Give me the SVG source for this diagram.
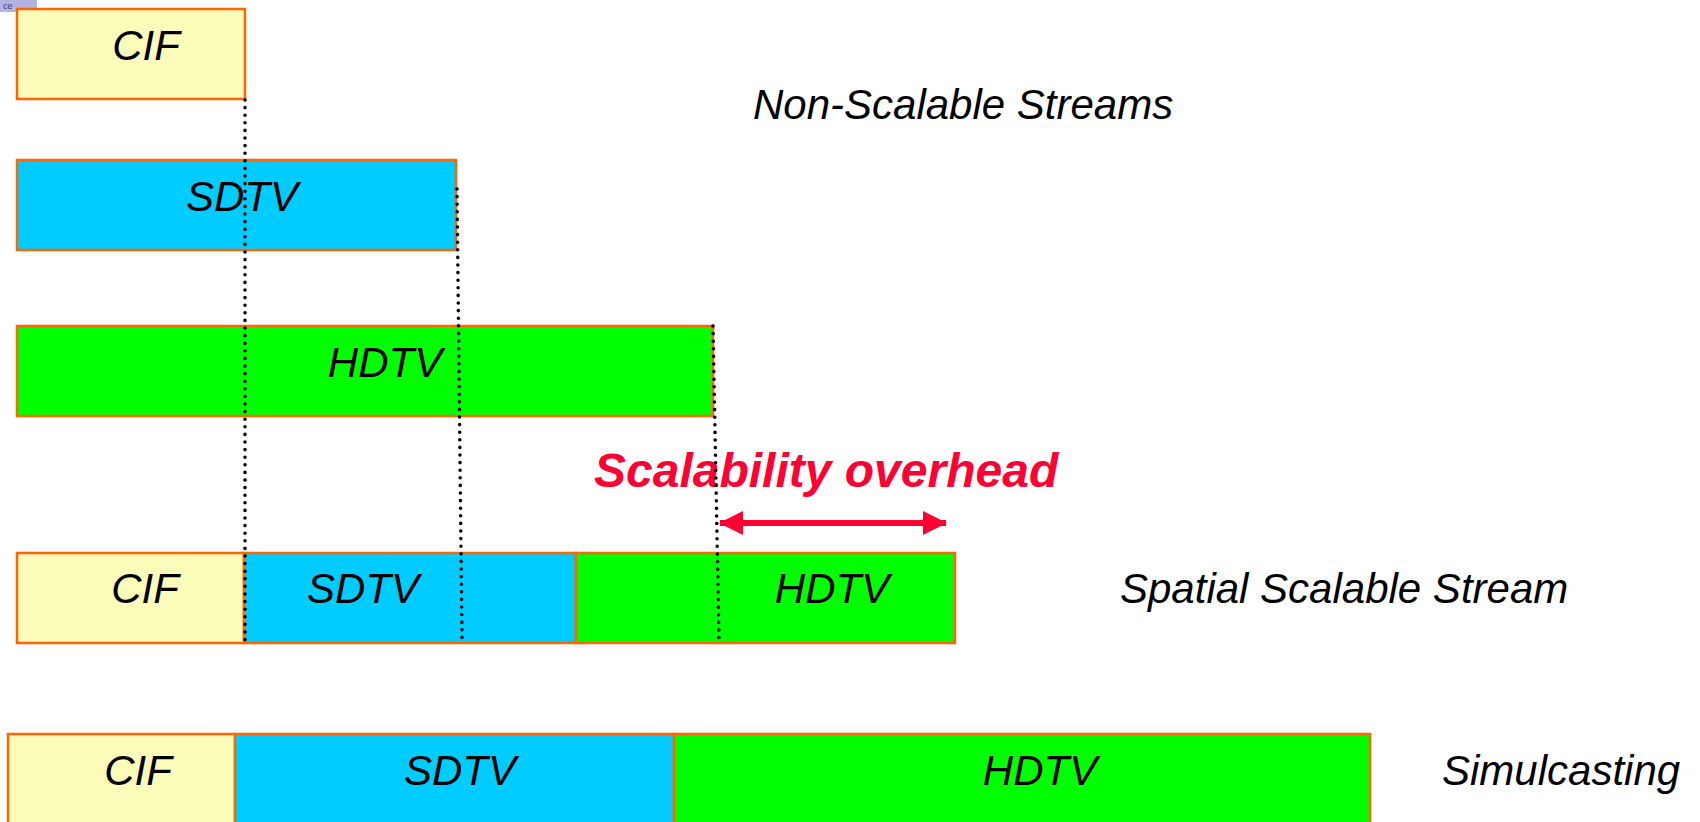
<svg xmlns="http://www.w3.org/2000/svg" width="1700" height="822" viewBox="0 0 1700 822">
<style>
.box{stroke:#FF6600;stroke-width:2.5}
.cif{fill:#FCFCBA}
.sd{fill:#00CCFF}
.hd{fill:#00FF00}
.lbl{font-family:"Liberation Sans",Arial,sans-serif;font-style:italic;font-size:42px;fill:#000;text-anchor:middle}
.cap{font-family:"Liberation Sans",Arial,sans-serif;font-style:italic;font-size:42px;fill:#000}
.dot{stroke:#000;stroke-width:3.6;stroke-linecap:round;stroke-dasharray:0 7.6;fill:none}
</style>
<defs>
<marker id="ah" viewBox="0 0 24 24" refX="23" refY="12" markerWidth="24" markerHeight="24" markerUnits="userSpaceOnUse" orient="auto-start-reverse">
<path d="M0,0 L24,12 L0,24 Z" fill="#FF0033"/>
</marker>
</defs>
<rect width="1700" height="822" fill="#fff"/>
<g id="corner">
<rect x="0" y="0" width="37" height="12" fill="#B3B3E3"/>
<text x="3" y="9" font-family="Liberation Sans,sans-serif" font-size="9" fill="#33338A">ce</text>
</g>
<g id="top-cif"><rect class="box cif" x="17" y="9" width="228" height="90"/><text class="lbl" x="146" y="60">CIF</text></g>
<g id="top-sdtv"><rect class="box sd" x="17" y="160" width="439" height="90"/><text class="lbl" x="242" y="211">SDTV</text></g>
<g id="top-hdtv"><rect class="box hd" x="17" y="326" width="696" height="90"/><text class="lbl" x="385" y="377">HDTV</text></g>
<g id="label-nonscalable"><text class="cap" x="753" y="119">Non-Scalable Streams</text></g>
<g id="mid-cif"><rect class="box cif" x="17" y="553" width="227" height="90"/><text class="lbl" x="145" y="603">CIF</text></g>
<g id="mid-sdtv"><rect class="box sd" x="244" y="553" width="332" height="90"/><text class="lbl" x="363" y="603">SDTV</text></g>
<g id="mid-hdtv"><rect class="box hd" x="576" y="553" width="379" height="90"/><text class="lbl" x="832" y="603">HDTV</text></g>
<g id="label-spatial"><text class="cap" x="1120" y="603">Spatial Scalable Stream</text></g>
<g id="bot-cif"><rect class="box cif" x="8" y="734" width="227" height="92"/><text class="lbl" x="138" y="785">CIF</text></g>
<g id="bot-sdtv"><rect class="box sd" x="235" y="734" width="439" height="92"/><text class="lbl" x="460" y="785">SDTV</text></g>
<g id="bot-hdtv"><rect class="box hd" x="674" y="734" width="696" height="92"/><text class="lbl" x="1040" y="785">HDTV</text></g>
<g id="label-simulcast"><text class="cap" x="1442" y="785">Simulcasting</text></g>
<g id="label-overhead"><text x="594" y="487" font-family="Liberation Sans,Arial,sans-serif" font-style="italic" font-weight="bold" font-size="48" fill="#FF0033">Scalability overhead</text></g>
<g id="connectors">
<line class="dot" x1="245" y1="100" x2="245" y2="640"/>
<line class="dot" x1="457" y1="189" x2="462" y2="640"/>
<line class="dot" x1="713" y1="326" x2="719" y2="640"/>
<line x1="720" y1="523" x2="946" y2="523" stroke="#FF0033" stroke-width="6" marker-start="url(#ah)" marker-end="url(#ah)"/>
</g>
</svg>
